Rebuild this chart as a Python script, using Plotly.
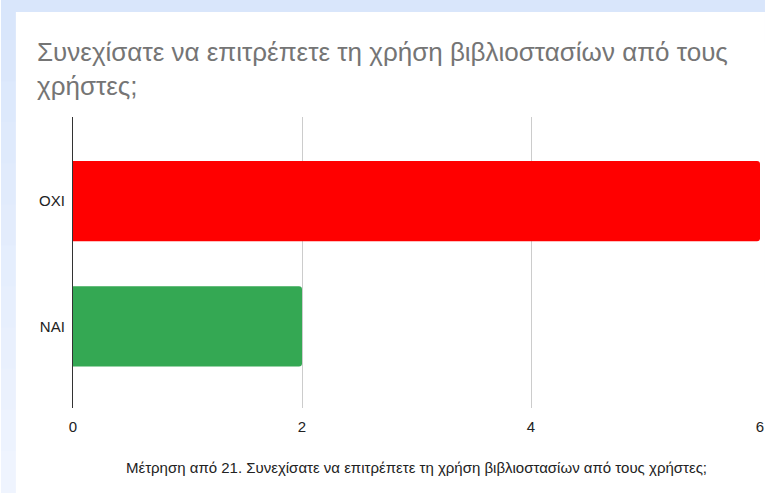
import plotly.graph_objects as go

categories = ["NAI", "OXI"]
counts = [2, 6]
bar_colors = ["#34a853", "#ff0000"]
x_ticks = [0, 2, 4, 6]

title_text = "Συνεχίσατε να επιτρέπετε τη χρήση βιβλιοστασίων από τους<br>χρήστες;"
x_title = "Μέτρηση από 21. Συνεχίσατε να επιτρέπετε τη χρήση βιβλιοστασίων από τους χρήστες;"

W, H = 769, 493
L, R, T, B = 72.5, 5, 117, 85
pw, ph = W - L - R, H - T - B

def px_to_paper_x(px):
    return (px - L) / pw

def px_to_paper_y(py):
    return (H - B - py) / ph

fig = go.Figure()
fig.add_trace(go.Bar(
    y=categories, x=counts, orientation="h",
    marker=dict(color=bar_colors, cornerradius=3, line=dict(width=0)),
    width=0.64, hoverinfo="x+y",
))

shapes = []
# outer light-blue frame with slight vertical gradient
top_col = (0xd9, 0xe6, 0xfb)
bot_col = (0xef, 0xf4, 0xfe)
n = 12
for i in range(n):
    y0 = i * H / n
    y1 = (i + 1) * H / n
    f = i / (n - 1)
    c = tuple(int(round(top_col[k] + (bot_col[k] - top_col[k]) * f)) for k in range(3))
    shapes.append(dict(type="rect", xref="paper", yref="paper",
                       x0=px_to_paper_x(0), x1=px_to_paper_x(W),
                       y0=px_to_paper_y(y1 + 1), y1=px_to_paper_y(y0 - 1),
                       fillcolor="rgb(%d,%d,%d)" % c, line=dict(width=0), layer="below"))
# white card
shapes.append(dict(type="rect", xref="paper", yref="paper",
                   x0=px_to_paper_x(15), x1=px_to_paper_x(W),
                   y0=px_to_paper_y(H), y1=px_to_paper_y(12),
                   fillcolor="white", line=dict(width=0), layer="below"))

fig.update_layout(
    width=W, height=H,
    margin=dict(l=L, r=R, t=T, b=B, pad=0),
    paper_bgcolor="white", plot_bgcolor="rgba(0,0,0,0)",
    shapes=shapes,
    showlegend=False,
    font=dict(family="Arial, 'Liberation Sans', sans-serif", color="#222222", size=15),
    title=dict(text=title_text, xref="container", yref="container",
               x=37 / W, xanchor="left", y=1 - 61 / H, yanchor="top",
               font=dict(size=26, color="#757575",
                         family="Arial, 'Liberation Sans', sans-serif")),
    xaxis=dict(range=[0, 6], tickvals=x_ticks, ticktext=[str(v) for v in x_ticks],
               showgrid=True, gridcolor="#cccccc", gridwidth=1,
               zeroline=False, showline=False, ticks="", ticklabelstandoff=8,
               ticklabeloverflow="allow",
               tickfont=dict(size=15, color="#222222"),
               title=dict(text=x_title, standoff=28,
                          font=dict(size=15, color="#222222"))),
    yaxis=dict(range=[-0.65, 1.67], showgrid=False, zeroline=False,
               showline=True, linecolor="#333333", linewidth=1.3,
               ticks="", ticklabelstandoff=4,
               tickfont=dict(size=15, color="#222222")),
)

fig.write_html("out.html", config={"displayModeBar": False},
               post_script="document.body.style.margin='0';document.body.style.overflow='hidden';")
